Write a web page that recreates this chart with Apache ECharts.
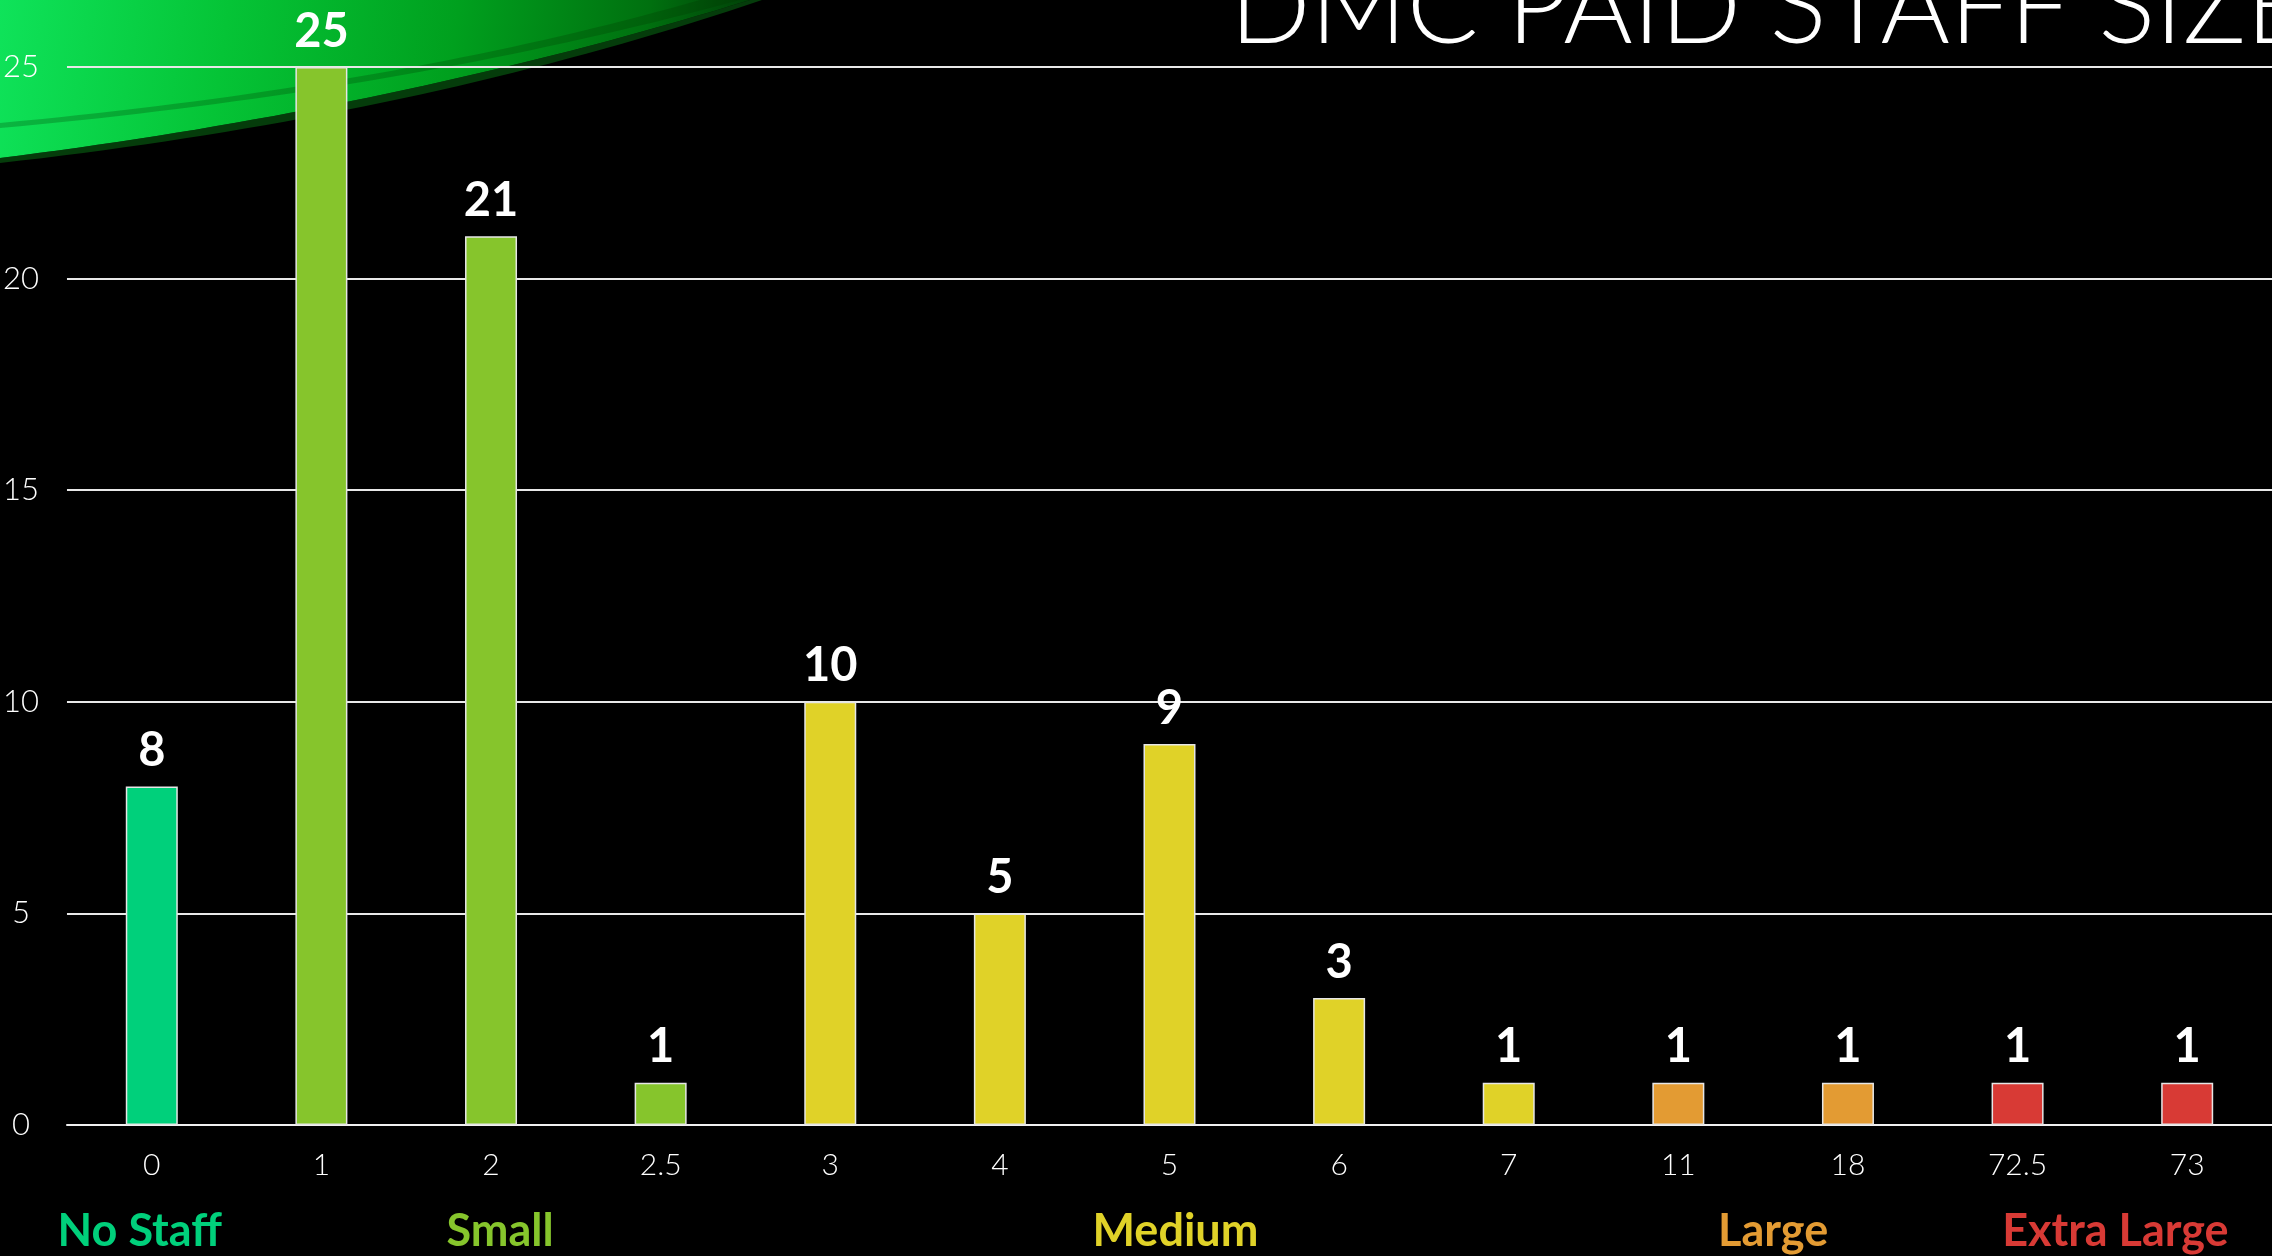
<!DOCTYPE html>
<html>
<head>
<meta charset="utf-8">
<script src="https://cdn.jsdelivr.net/npm/echarts@6/dist/echarts.min.js"></script>
<style>
html,body{margin:0;padding:0;background:#000;}
#chart{width:2272px;height:1256px;}
</style>
</head>
<body>
<div id="chart"></div>
<script>
// ---- data ----
const title = 'DMC PAID STAFF SIZE';
const categories = ['0', '1', '2', '2.5', '3', '4', '5', '6', '7', '11', '18', '72.5', '73'];
const values = [8, 25, 21, 1, 10, 5, 9, 3, 1, 1, 1, 1, 1];
const groupOfBar = [0, 1, 1, 1, 2, 2, 2, 2, 2, 3, 3, 4, 4];
const groupNames = ['No Staff', 'Small', 'Medium', 'Large', 'Extra Large'];
const groupColors = ['#00D07B', '#86C52C', '#E0D228', '#E39B33', '#D83A35'];
const yTicks = [0, 5, 10, 15, 20, 25];

// layout only: small horizontal nudges of the group captions (px)
const groupLabelNudge = [-12, 9, 6, 10, 13];

const chart = echarts.init(document.getElementById('chart'), null, {renderer: 'canvas'});
const FONT = 'Lato, "Open Sans", sans-serif';

// decorative swoosh outline (quadratic curve sampled to a polygon)
function quad(p0, c, p1, n) {
  const pts = [];
  for (let i = 0; i <= n; i++) {
    const t = i / n, u = 1 - t;
    pts.push([u * u * p0[0] + 2 * u * t * c[0] + t * t * p1[0], u * u * p0[1] + 2 * u * t * c[1] + t * t * p1[1]]);
  }
  return pts;
}
function band(a, b) { return a.concat(b.slice().reverse()); }

const swooshMain = [[0, 0]].concat(quad([750, 0], [400, 108], [0, 158], 40));
const swooshEdge = band(quad([762, 0], [420, 116], [0, 163], 40), quad([750, 0], [400, 108], [0, 158], 40));
const swooshStreak = band(quad([740, 0], [400, 92], [0, 128], 40), quad([700, 0], [400, 86], [0, 123], 40));

const option = {
  backgroundColor: '#000',
  animation: false,
  grid: {left: 66, right: 0, top: 67, bottom: 131, containLabel: false},
  xAxis: {
    type: 'category',
    data: categories,
    axisLine: {lineStyle: {color: '#f0f0f0', width: 2}},
    axisTick: {show: false},
    axisLabel: {color: '#fff', fontSize: 30, fontWeight: 300, fontFamily: FONT, margin: 25}
  },
  yAxis: {
    type: 'value',
    min: yTicks[0],
    max: yTicks[yTicks.length - 1],
    interval: yTicks[1] - yTicks[0],
    axisLine: {show: false},
    axisTick: {show: false},
    splitLine: {lineStyle: {color: '#e8e8e8', width: 2}},
    axisLabel: {color: '#fff', fontSize: 31, fontWeight: 300, fontFamily: FONT, align: 'center', margin: 46}
  },
  series: [{
    type: 'bar',
    barWidth: 52,
    z: 3,
    data: values.map((v, i) => ({
      value: v,
      itemStyle: {color: groupColors[groupOfBar[i]], borderColor: '#e6e6e6', borderWidth: 1.5}
    })),
    label: {
      show: true,
      position: 'top',
      distance: 12,
      color: '#fff',
      fontSize: 47,
      fontWeight: 'bold',
      fontFamily: FONT
    }
  }],
  graphic: [
    {
      type: 'polygon',
      z: -10,
      silent: true,
      shape: {points: swooshMain},
      style: {
        fill: {
          type: 'linear', x: 0, y: 0, x2: 1, y2: 0.7,
          colorStops: [
            {offset: 0, color: '#0fe35a'},
            {offset: 0.3, color: '#05c436'},
            {offset: 0.6, color: '#00a01e'},
            {offset: 0.85, color: '#00700f'},
            {offset: 1, color: '#003a06'}
          ]
        }
      }
    },
    {
      type: 'polygon',
      z: -9,
      silent: true,
      shape: {points: swooshEdge},
      style: {fill: 'rgba(10,110,20,0.55)'}
    },
    {
      type: 'polygon',
      z: -9,
      silent: true,
      shape: {points: swooshStreak},
      style: {fill: 'rgba(0,50,0,0.25)'}
    },
    {
      type: 'text',
      z: 10,
      left: 1230,
      top: -44,
      style: {text: title, fill: '#fff', fontSize: 106, fontWeight: 300, fontFamily: FONT}
    }
  ]
};
chart.setOption(option);

// group labels centred under their category spans
const groupTexts = groupNames.map((name, g) => {
  const idx = groupOfBar.map((gg, i) => gg === g ? i : -1).filter(i => i >= 0);
  const xa = chart.convertToPixel({xAxisIndex: 0}, idx[0]);
  const xb = chart.convertToPixel({xAxisIndex: 0}, idx[idx.length - 1]);
  return {
    type: 'text',
    x: (xa + xb) / 2 + groupLabelNudge[g],
    y: 1231,
    style: {
      text: name, fill: groupColors[g], fontSize: 45, fontWeight: 'bold', fontFamily: FONT,
      align: 'center', verticalAlign: 'middle'
    }
  };
});
chart.setOption({graphic: option.graphic.concat(groupTexts)});
</script>
</body>
</html>
